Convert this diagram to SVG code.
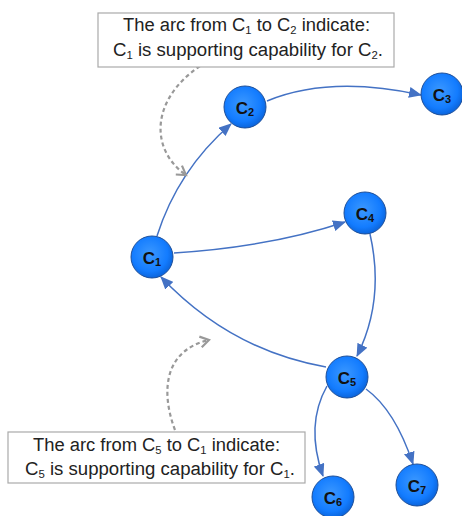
<svg xmlns="http://www.w3.org/2000/svg" width="462" height="516" viewBox="0 0 462 516">
  <defs>
    <radialGradient id="ball" cx="0.45" cy="0.42" r="0.6">
      <stop offset="0" stop-color="#3b98ff"/>
      <stop offset="0.7" stop-color="#137cff"/>
      <stop offset="1" stop-color="#0a62d8"/>
    </radialGradient>
    <marker id="tri" viewBox="0 0 13 11" refX="12" refY="5.5" markerWidth="13" markerHeight="11" markerUnits="userSpaceOnUse" orient="auto">
      <path d="M0,0 L13,5.5 L0,11 Z" fill="#4472c4"/>
    </marker>
    <marker id="chev" viewBox="0 0 12 12" refX="10" refY="6" markerWidth="13" markerHeight="13" markerUnits="userSpaceOnUse" orient="auto">
      <path d="M2,1 L10,6 L2,11" fill="none" stroke="#999" stroke-width="2"/>
    </marker>
  </defs>
  <style>
    .node circle { fill: url(#ball); stroke: #1d4f9a; stroke-width: 1; }
    .node text { font-family: "Liberation Sans", Arial, sans-serif; font-weight: bold; font-size: 17px; fill: #111; text-anchor: middle; }
    .node text tspan { font-size: 11px; }
    .edge { fill: none; stroke: #4472c4; stroke-width: 1.5; marker-end: url(#tri); }
    .note { fill: none; stroke: #999; stroke-width: 2.2; stroke-dasharray: 4 3; marker-end: url(#chev); }
    .box rect { fill: #fff; stroke: #aaa; stroke-width: 1.2; }
    .box text { font-family: "Liberation Sans", Arial, sans-serif; font-size: 18px; fill: #222; }
    .box text tspan.s { font-size: 11px; }
  </style>

  <rect width="462" height="516" fill="#fff"/>

  <g id="connectors">
    <path class="edge" d="M157,236 Q178,170 231,124"/>
    <path class="edge" d="M267,101 Q330,75 421,95"/>
    <path class="edge" d="M174,253 Q270,247 345,222"/>
    <path class="edge" d="M370,234 Q385,300 357,356"/>
    <path class="edge" d="M326,367 Q230,350 161,277"/>
    <path class="edge" d="M327,386 Q305,425 323,476"/>
    <path class="edge" d="M366,389 Q395,410 413,464"/>
    <path class="note" d="M200,66 C150,100 150,150 186,175"/>
    <path class="note" d="M175,430 C160,390 165,350 209,340"/>
  </g>

  <g id="note-top" class="box">
    <rect x="98" y="13" width="296" height="54"/>
    <text x="123" y="31" textLength="247" lengthAdjust="spacingAndGlyphs">The arc from C<tspan class="s" dy="3">1</tspan><tspan dy="-3"> to C</tspan><tspan class="s" dy="3">2</tspan><tspan dy="-3"> indicate:</tspan></text>
    <text x="113" y="56" textLength="270" lengthAdjust="spacingAndGlyphs">C<tspan class="s" dy="3">1</tspan><tspan dy="-3"> is supporting capability for C</tspan><tspan class="s" dy="3">2</tspan><tspan dy="-3">.</tspan></text>
  </g>

  <g id="note-bottom" class="box">
    <rect x="8" y="432" width="297" height="51"/>
    <text x="33" y="451" textLength="247" lengthAdjust="spacingAndGlyphs">The arc from C<tspan class="s" dy="3">5</tspan><tspan dy="-3"> to C</tspan><tspan class="s" dy="3">1</tspan><tspan dy="-3"> indicate:</tspan></text>
    <text x="25" y="475" textLength="270" lengthAdjust="spacingAndGlyphs">C<tspan class="s" dy="3">5</tspan><tspan dy="-3"> is supporting capability for C</tspan><tspan class="s" dy="3">1</tspan><tspan dy="-3">.</tspan></text>
  </g>

  <g id="C1" class="node"><circle cx="152" cy="257" r="21"/><text x="152" y="264">C<tspan dy="2">1</tspan></text></g>
  <g id="C2" class="node"><circle cx="245" cy="107" r="21"/><text x="245" y="114">C<tspan dy="2">2</tspan></text></g>
  <g id="C3" class="node"><circle cx="442" cy="94" r="21"/><text x="442" y="101">C<tspan dy="2">3</tspan></text></g>
  <g id="C4" class="node"><circle cx="365" cy="213" r="21"/><text x="365" y="220">C<tspan dy="2">4</tspan></text></g>
  <g id="C5" class="node"><circle cx="347" cy="377" r="21"/><text x="347" y="384">C<tspan dy="2">5</tspan></text></g>
  <g id="C6" class="node"><circle cx="333" cy="497" r="21"/><text x="333" y="504">C<tspan dy="2">6</tspan></text></g>
  <g id="C7" class="node"><circle cx="417" cy="485" r="21"/><text x="417" y="492">C<tspan dy="2">7</tspan></text></g>
</svg>
